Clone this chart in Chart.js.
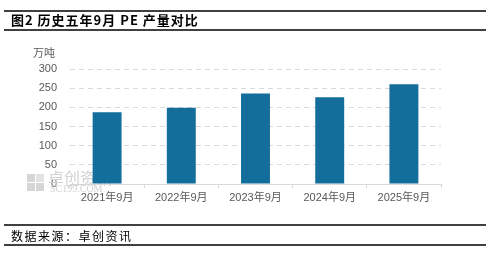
<!DOCTYPE html>
<html>
<head>
<meta charset="utf-8">
<script src="https://cdn.jsdelivr.net/npm/chart.js@4.4.1/dist/chart.umd.min.js"></script>
<style>
  html, body { margin: 0; padding: 0; background: #fff; }
  #wrap { width: 501px; height: 258px; position: relative; }
</style>
</head>
<body>
<div id="wrap"><canvas id="peChart" width="501" height="258"></canvas></div>
<script>
// Data
const months = ['2021年9月', '2022年9月', '2023年9月', '2024年9月', '2025年9月'];
const output = [187, 199, 236, 226, 260];
const yTicks = [0, 50, 100, 150, 200, 250, 300];

const titleText = '图2 历史五年9月 PE 产量对比';
const unitText = '万吨';
const sourceText = '数据来源：卓创资讯';

const cjk = "'Liberation Sans', 'Noto Sans CJK SC', sans-serif";

// Header / footer lines, titles and the faint watermark
const decorPlugin = {
    id: 'decor',
    beforeDatasetsDraw(chart) {
        const ctx = chart.ctx;
        ctx.save();
        // watermark logo blocks
        ctx.fillStyle = '#d6d6d6';
        ctx.fillRect(27, 174, 8, 8);
        ctx.fillRect(27, 183, 8, 8);
        ctx.fillRect(36, 183, 8, 8);
        ctx.fillStyle = '#e2e2e2';
        ctx.fillRect(36, 174, 8, 8);
        ctx.fillStyle = '#d2d2d2';
        ctx.font = "16px 'Noto Sans CJK SC', sans-serif";
        ctx.textBaseline = 'middle';
        ctx.fillText('卓创资讯', 48, 178);
        ctx.font = "10px 'Liberation Serif', serif";
        ctx.fillText('SC199.COM', 50, 189);
        ctx.restore();
    },
    afterDraw(chart) {
        const ctx = chart.ctx;
        ctx.save();
        ctx.strokeStyle = '#000';
        ctx.lineWidth = 1.5;
        [11, 30, 225, 245].forEach(y => {
            ctx.beginPath();
            ctx.moveTo(4, y);
            ctx.lineTo(486, y);
            ctx.stroke();
        });
        ctx.fillStyle = '#000';
        ctx.textBaseline = 'middle';
        ctx.letterSpacing = '1px';
        ctx.font = "bold 13px 'Noto Sans CJK SC', sans-serif";
        ctx.fillText(titleText, 11, 20);
        ctx.letterSpacing = '1.5px';
        ctx.font = "12px 'Noto Sans CJK SC', sans-serif";
        ctx.fillText(sourceText, 11, 236);
        ctx.letterSpacing = '0px';
        ctx.fillStyle = '#595959';
        ctx.font = "11px 'Noto Sans CJK SC', sans-serif";
        ctx.fillText(unitText, 33, 53);
        ctx.restore();
    }
};

const ctx = document.getElementById('peChart').getContext('2d');
const peChart = new Chart(ctx, {
    type: 'bar',
    data: {
        labels: months,
        datasets: [{
            label: 'PE产量',
            data: output,
            backgroundColor: '#146e9c',
            categoryPercentage: 1,
            barPercentage: 0.39
        }]
    },
    options: {
        responsive: false,
        animation: false,
        layout: {
            padding: { left: 0, top: 69, right: 60, bottom: 54 }
        },
        plugins: {
            legend: { display: false },
            tooltip: { enabled: false }
        },
        scales: {
            x: {
                afterFit(scale) { scale.height = 20; },
                border: { display: true, color: '#d9d9d9', width: 1 },
                grid: {
                    drawOnChartArea: false,
                    drawTicks: true,
                    tickLength: 4,
                    offset: true,
                    color: '#d9d9d9'
                },
                ticks: {
                    color: '#595959',
                    font: { size: 11, family: cjk },
                    padding: 3,
                    maxRotation: 0
                }
            },
            y: {
                min: 0,
                max: 300,
                afterFit(scale) { scale.width = 70; },
                afterBuildTicks(scale) {
                    scale.ticks = yTicks.map(v => ({ value: v }));
                },
                grid: {
                    drawTicks: false,
                    color: '#d9d9d9',
                    lineWidth: 1
                },
                border: { display: false, dash: [5, 4] },
                ticks: {
                    color: '#595959',
                    font: { size: 11, family: cjk },
                    padding: 13
                }
            }
        }
    },
    plugins: [decorPlugin]
});
</script>
</body>
</html>
